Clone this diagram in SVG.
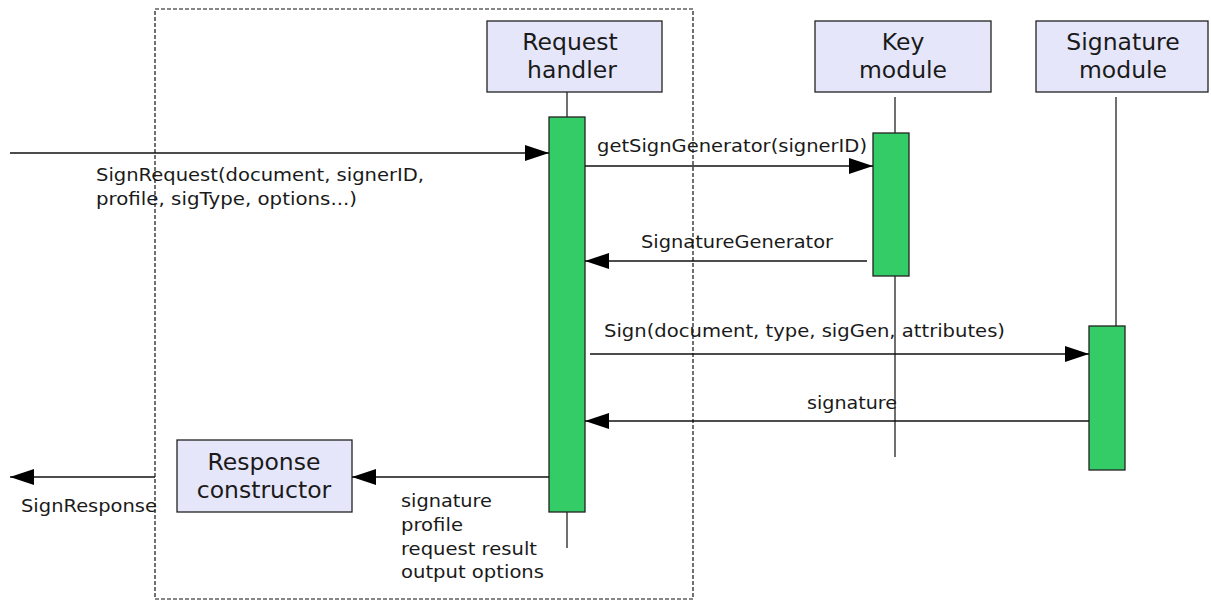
<svg xmlns="http://www.w3.org/2000/svg" width="1211" height="600" viewBox="0 0 1211 600">
  <style>
    .box { fill: #e6e6fa; stroke: #222; stroke-width: 1.3; }
    .act { fill: #33cc66; stroke: #222; stroke-width: 1.3; }
    .life { stroke: #222; stroke-width: 1.3; fill: none; }
    .msg { stroke: #111; stroke-width: 1.5; fill: none; marker-end: url(#head); }
    .frame { fill: none; stroke: #111; stroke-width: 1.2; stroke-dasharray: 4 2; }
    .title { font-family: "DejaVu Sans", "Liberation Sans", sans-serif; font-size: 23.5px; fill: #1a1a1a; text-anchor: middle; }
    .lbl { font-family: "DejaVu Sans", "Liberation Sans", sans-serif; font-size: 17px; fill: #1a1a1a; }
  </style>
  <defs>
    <marker id="head" viewBox="0 0 24 16" refX="24" refY="8" markerWidth="24" markerHeight="16" markerUnits="userSpaceOnUse" orient="auto">
      <path d="M0,0 L24,8 L0,16 Z" fill="#000"/>
    </marker>
  </defs>

  <!-- boundary of the request handling component -->
  <rect class="frame" x="155" y="9" width="538" height="590"/>

  <g id="request-handler">
    <rect class="box" x="487" y="21" width="175" height="71"/>
    <text class="title" x="570" y="50">Request</text>
    <text class="title" x="572" y="78">handler</text>
    <line class="life" x1="567" y1="92" x2="567" y2="117"/>
    <line class="life" x1="567" y1="512" x2="567" y2="548"/>
    <rect class="act" x="549" y="117" width="36" height="395"/>
  </g>

  <g id="key-module">
    <rect class="box" x="815" y="21" width="176" height="71"/>
    <text class="title" x="903" y="50">Key</text>
    <text class="title" x="903" y="78">module</text>
    <line class="life" x1="895" y1="97" x2="895" y2="457"/>
    <rect class="act" x="873" y="133" width="36" height="143"/>
  </g>

  <g id="signature-module">
    <rect class="box" x="1036" y="21" width="172" height="71"/>
    <text class="title" x="1123" y="50">Signature</text>
    <text class="title" x="1123" y="78">module</text>
    <line class="life" x1="1116" y1="97" x2="1116" y2="326"/>
    <rect class="act" x="1089" y="326" width="36" height="144"/>
  </g>

  <g id="response-constructor">
    <rect class="box" x="177" y="440" width="175" height="72"/>
    <text class="title" x="264" y="470">Response</text>
    <text class="title" x="264" y="498">constructor</text>
  </g>

  <g id="connectors">
    <line class="msg" x1="10" y1="153" x2="549" y2="153"/>
    <line class="msg" x1="585" y1="166" x2="873" y2="166"/>
    <line class="msg" x1="867" y1="261" x2="585" y2="261"/>
    <line class="msg" x1="590" y1="354" x2="1089" y2="354"/>
    <line class="msg" x1="1089" y1="421" x2="585" y2="421"/>
    <line class="msg" x1="549" y1="477" x2="352" y2="477"/>
    <line class="msg" x1="155" y1="477" x2="10" y2="477"/>

    <text class="lbl" x="96" y="181" textLength="328" lengthAdjust="spacingAndGlyphs">SignRequest(document, signerID,</text>
    <text class="lbl" x="96" y="205" textLength="261" lengthAdjust="spacingAndGlyphs">profile, sigType, options...)</text>
    <text class="lbl" x="597" y="152" textLength="270" lengthAdjust="spacingAndGlyphs">getSignGenerator(signerID)</text>
    <text class="lbl" x="641" y="248" textLength="192" lengthAdjust="spacingAndGlyphs">SignatureGenerator</text>
    <text class="lbl" x="604" y="337" textLength="401" lengthAdjust="spacingAndGlyphs">Sign(document, type, sigGen, attributes)</text>
    <text class="lbl" x="807" y="409" textLength="90" lengthAdjust="spacingAndGlyphs">signature</text>
    <text class="lbl" x="401" y="507" textLength="91" lengthAdjust="spacingAndGlyphs">signature</text>
    <text class="lbl" x="401" y="531" textLength="62" lengthAdjust="spacingAndGlyphs">profile</text>
    <text class="lbl" x="401" y="555" textLength="136" lengthAdjust="spacingAndGlyphs">request result</text>
    <text class="lbl" x="401" y="578" textLength="143" lengthAdjust="spacingAndGlyphs">output options</text>
    <text class="lbl" x="21" y="512" textLength="136" lengthAdjust="spacingAndGlyphs">SignResponse</text>
  </g>
</svg>
